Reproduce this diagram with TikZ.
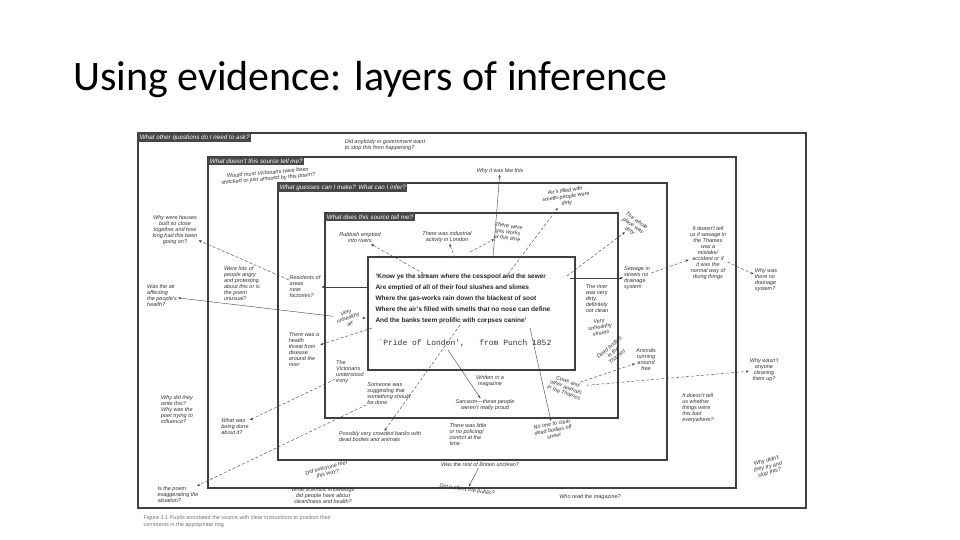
\documentclass[tikz,border=0pt]{standalone}
\usepackage{fontspec}
\setmainfont{Liberation Sans}
\newfontfamily\titlefont{Carlito}
\setmonofont{Liberation Mono}
\usetikzlibrary{positioning}
\usetikzlibrary{arrows.meta}
\usetikzlibrary{calc}

\begin{document}
\begin{tikzpicture}[x=1pt, y=-1pt,
		% Style definitions
		ring/.style={draw=black!75, line width=1.5pt, inner sep=0pt},
		tag/.style={fill=black!72, text=white, inner sep=1.5pt, font=\fontsize{6.3}{7}\selectfont\itshape, anchor=north west},
		note/.style={font=\fontsize{5.5}{6}\selectfont\itshape, align=center, text=black!80, inner sep=1pt},
		quote/.style={font=\fontsize{6.5}{11}\selectfont\bfseries, align=left, text=black!85},
		arrow/.style={-{Stealth[length=3pt, width=2.5pt]}, densely dashed, thin, black!75},
		solid arrow/.style={-{Stealth[length=3pt, width=2.5pt]}, thin, black!75},
		]
		\useasboundingbox (0,0) rectangle (960,540);
		\fill[white] (0,0) rectangle (960,540);

		% === Title ===
		\node[anchor=west, font=\titlefont\fontsize{42}{44}\selectfont, inner sep=0pt] (title) at (73,80) {Using evidence: layers of inference};

		% === Nested rings ===
		\node[ring, minimum width=668, minimum height=375] (ring-ask) at (472,320.5) {};
		\node[ring, minimum width=528, minimum height=331] (ring-tell) at (472,322.5) {};
		\node[ring, minimum width=389, minimum height=277] (ring-guess) at (472.5,321.5) {};
		\node[ring, minimum width=293, minimum height=205] (ring-source) at (471.5,315.5) {};
		\node[ring, minimum width=207, minimum height=113, fill=white] (quote-box) at (471.5,313.5) {};

		\node[tag] (lbl-ask) at ($(ring-ask.north west)+(1,1)$) {What other questions do I need to ask?};
		\node[tag] (lbl-tell) at ($(ring-tell.north west)+(1,1)$) {What doesn't this source tell me?};
		\node[tag] (lbl-guess) at ($(ring-guess.north west)+(1,1)$) {What guesses can I make? What can I infer?};
		\node[tag] (lbl-source) at ($(ring-source.north west)+(1,1)$) {What does this source tell me?};

		% === The source ===
		\node[quote, anchor=north west] (poem) at (372,270) {%
			`Know ye the stream where the cesspool and the sewer\\
			Are emptied of all of their foul slushes and slimes\\
			Where the gas-works rain down the blackest of soot\\
			Where the air's filled with smells that no nose can define\\
			And the banks teem prolific with corpses canine'};
		\node[font=\ttfamily\fontsize{8}{9}\selectfont, text=black!80, anchor=west] (citation) at (375,343) {`Pride of London',~~~from Punch 1852};

		% === Inner ring notes ===
		\node[note] (rubbish) at (360,238) {Rubbish emptied\\into rivers};
		\node[note] (industry) at (447,237) {There was industrial\\activity in London};
		\node[note, rotate=-8] (gasworks) at (508,232) {There were\\gas works\\at this time};
		\node[note, rotate=20] (unhealthy-air) at (348,318) {Very\\unhealthy\\air};
		\node[note, align=left] (river) at (597,299) {The river\\was very\\dirty,\\definitely\\not clean};
		\node[note, rotate=10] (streets) at (600,327) {Very\\unhealthy\\streets};
		\node[note, rotate=40] (bodies) at (613,352) {Dead bodies\\in the\\Thames};
		\node[note, rotate=-20] (cows) at (566,387) {Cows and\\other animals\\in the Thames};
		\node[note] (magazine) at (490,381) {Written in a\\magazine};
		\node[note] (sarcasm) at (485,405) {Sarcasm---these people\\weren't really proud};
		\node[note, align=left] (irony) at (350,372) {The\\Victorians\\understood\\irony};
		\node[note, align=left] (suggest) at (389,394) {Someone was\\suggesting that\\something should\\be done};

		% === Guess ring notes ===
		\node[note, rotate=8] (airs) at (566,197) {Air's filled with\\smells-people were\\dirty};
		\node[note, rotate=-35] (whole) at (633,226) {The whole\\place was\\dirty};
		\node[note, align=left] (sewage) at (637,278) {Sewage in\\streets no\\drainage\\system};
		\node[note] (animals) at (646,360) {Animals\\running\\around\\free};
		\node[note, align=left] (residents) at (305,287) {Residents of\\areas\\near\\factories?};
		\node[note, align=left] (threat) at (304,350) {There was a\\health\\threat from\\disease\\around the\\river};
		\node[note, align=left] (crowded) at (380,437) {Possibly very crowded banks with\\dead bodies and animals};
		\node[note, align=left] (policing) at (468,435) {There was little\\or no policing/\\control at the\\time};
		\node[note, rotate=10] (clear) at (553,430) {No one to clear\\dead bodies off\\street};

		% === Tell ring notes ===
		\node[note, rotate=5] (shocked) at (268,176) {Would most Victorians have been\\shocked or just amused by this poem?};
		\node[note] (likethis) at (500,171) {Why it was like this};
		\node[note, align=left] (angry) at (242,284) {Were lots of\\people angry\\and protesting\\about this or is\\the poem\\unusual?};
		\node[note] (normal) at (708,253) {It doesn't tell\\us if sewage in\\the Thames\\was a\\mistake/\\accident or if\\it was the\\normal way of\\doing things};
		\node[note, align=left] (everywhere) at (698,408) {It doesn't tell\\us whether\\things were\\this bad\\everywhere?};
		\node[note, align=left] (beingdone) at (235,427) {What was\\being done\\about it?};
		\node[note] (britain) at (480,465) {Was the rest of Britain unclean?};
		\node[note, rotate=15] (everyone) at (327,471) {Did everyone feel\\this way?};

		% === Ask ring notes ===
		\node[note, align=left] (government) at (385,145) {Did anybody in government want\\to stop this from happening?};
		\node[note] (houses) at (175,230) {Why were houses\\built so close\\together and how\\long had this been\\going on?};
		\node[note, align=left] (health) at (162,296) {Was the air\\affecting\\the people's\\health?};
		\node[note, align=left] (drainage) at (766,280) {Why was\\there no\\drainage\\system?};
		\node[note] (cleaning) at (764,370) {Why wasn't\\anyone\\cleaning\\them up?};
		\node[note, align=left] (influence) at (177,410) {Why did they\\write this?\\Why was the\\poet trying to\\influence?};
		\node[note, align=left] (exaggerate) at (178,495) {Is the poem\\exaggerating the\\situation?};
		\node[note] (science) at (323,496) {What scientific knowledge\\did people have about\\cleanliness and health?};
		\node[note, rotate=-8] (public) at (467,490) {Did it affect the public?};
		\node[note] (readers) at (590,497) {Who read the magazine?};
		\node[note, rotate=15] (stopthis) at (768,467) {Why didn't\\they try and\\stop this?};

		% === Caption ===
		\node[font=\fontsize{5.5}{7}\selectfont, text=black!55, align=left, anchor=north west] (caption) at (140,512) {Figure 3.1 Pupils annotated the source with clear instructions to position their\\comments in the appropriate ring};

		% === Connections from the source ===
		\coordinate (q-top) at (493,257);
		\draw[solid arrow] (q-top) -- (likethis);
		\draw[arrow] (428,276) -- (rubbish);
		\draw[arrow] (455,258) -- (industry);
		\draw[arrow] (470,252) -- (gasworks);
		\draw[arrow] (505,278) -- (airs);
		\draw[arrow] (567,276) -- (whole);
		\draw[solid arrow] (570,278) -- (sewage);
		\draw[solid arrow] (quote-box.west |- residents) -- (residents);
		\draw[solid arrow] (370,318) -- (unhealthy-air);
		\draw[arrow] (372,328) -- (threat);
		\draw[arrow] (460,325) -- (crowded);
		\draw[solid arrow] (448,350) -- (sarcasm);
		\draw[solid arrow] (530,328) -- (clear);

		% === Connections between notes ===
		\draw[arrow] (residents) -- (houses);
		\draw[solid arrow] (unhealthy-air) -- (health);
		\draw[arrow] (irony) -- (beingdone);
		\draw[arrow] (suggest) -- (exaggerate);
		\draw[arrow] (cows) -- (animals);
		\draw[arrow] (cows) -- (cleaning);
		\draw[arrow] (sewage) -- (normal);
		\draw[arrow] (normal) -- (drainage);
		\draw[solid arrow] (britain) -- (public);

	\end{tikzpicture}
\end{document}
